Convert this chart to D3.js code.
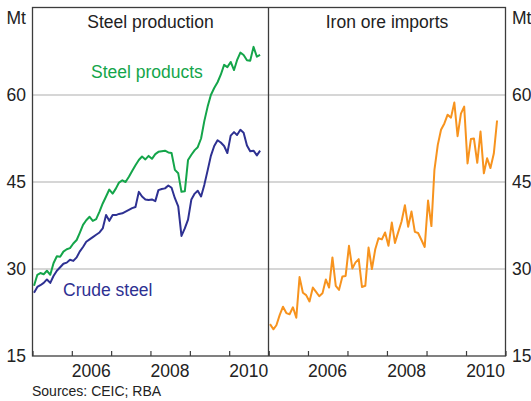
<!DOCTYPE html>
<html>
<head>
<meta charset="utf-8">
<script src="https://cdn.jsdelivr.net/npm/d3@7"></script>
<style>
  body { margin: 0; background: #fff; }
  svg text { font-family: "Liberation Sans", Arial, sans-serif; fill: #222; }
</style>
</head>
<body>
<svg id="chart" width="531" height="401"></svg>
<script>
// monthly data, Jan 2005 - Oct 2010 (Mt)
const months = [
  "2005-01","2005-02","2005-03","2005-04","2005-05","2005-06","2005-07","2005-08","2005-09","2005-10","2005-11","2005-12",
  "2006-01","2006-02","2006-03","2006-04","2006-05","2006-06","2006-07","2006-08","2006-09","2006-10","2006-11","2006-12",
  "2007-01","2007-02","2007-03","2007-04","2007-05","2007-06","2007-07","2007-08","2007-09","2007-10","2007-11","2007-12",
  "2008-01","2008-02","2008-03","2008-04","2008-05","2008-06","2008-07","2008-08","2008-09","2008-10","2008-11","2008-12",
  "2009-01","2009-02","2009-03","2009-04","2009-05","2009-06","2009-07","2009-08","2009-09","2009-10","2009-11","2009-12",
  "2010-01","2010-02","2010-03","2010-04","2010-05","2010-06","2010-07","2010-08","2010-09","2010-10"
];

const steelProducts = [
  27.1, 29.0, 29.3, 29.1, 29.7, 29.0, 31.0, 32.2, 32.1, 33.0, 33.4, 33.6,
  34.4, 35.0, 36.2, 37.6, 38.4, 39.0, 38.3, 38.6, 39.9, 41.3, 42.5, 43.7,
  43.0, 43.9, 44.9, 45.3, 45.0, 45.9, 46.9, 47.9, 48.8, 49.4, 48.9, 49.5,
  49.0, 49.8, 50.2, 50.3, 50.4, 50.1, 50.0, 47.1, 46.5, 43.3, 43.4, 48.8,
  49.7, 50.5, 51.0, 52.5, 55.5, 58.0, 60.0, 61.2, 62.2, 63.5, 65.2, 64.8,
  65.7, 64.3, 66.0, 67.3, 66.9, 66.0, 65.9, 68.3, 66.6, 66.9
];

const crudeSteel = [
  25.9, 26.9, 27.2, 27.6, 28.2, 27.6, 28.8, 29.7, 30.3, 30.9, 31.1, 31.6,
  31.4, 32.0, 33.0, 33.8, 34.7, 35.1, 35.5, 35.9, 36.3, 37.0, 39.3, 38.3,
  39.3, 39.3, 39.5, 39.6, 39.9, 40.2, 40.5, 40.7, 43.3, 42.5, 42.0, 41.9,
  42.0, 41.7, 43.6, 43.8, 43.9, 44.4, 44.0, 42.2, 40.8, 35.7, 37.0, 38.5,
  42.0, 43.0, 43.5, 42.5, 44.5, 47.0, 49.5, 51.2, 52.2, 51.8, 51.2, 50.0,
  53.0, 53.6, 53.1, 54.0, 53.5, 51.3, 50.3, 50.4, 49.6, 50.4
];

const ironOre = [
  20.5, 19.6, 20.3, 22.1, 23.5, 22.4, 22.2, 23.4, 21.6, 28.6, 25.9, 25.5,
  24.4, 26.8, 26.1, 25.3, 25.8, 28.2, 26.8, 32.0, 27.1, 26.4, 28.7, 28.8,
  34.0, 30.1, 31.1, 31.7, 26.9, 27.1, 33.7, 30.0, 33.4, 35.3, 35.1, 36.3,
  34.0, 38.0, 34.5, 36.4, 38.2, 41.0, 37.3, 39.9, 36.4, 36.2, 35.0, 33.8,
  41.8, 37.4, 47.1, 51.4, 54.0, 55.1, 56.6, 56.1, 58.7, 52.9, 56.8, 58.0,
  48.2, 52.4, 52.5, 48.3, 53.7, 46.5, 49.1, 47.4, 49.9, 55.6
];

const yTicks = [15, 30, 45, 60];
const gridTicks = [30, 45, 60];
const yearTicks = [2005, 2006, 2007, 2008, 2009, 2010, 2011];
const yearLabels = [2006, 2008, 2010];

const parseMonth = d3.timeParse("%Y-%m");
const dates = months.map(m => d3.timeDay.offset(parseMonth(m), 14));

const svg = d3.select("#chart");
const plotTop = 7.5, plotBottom = 356;
const panels = [
  { title: "Steel production", x0: 32.5, x1: 268.5,
    series: [{ values: steelProducts, color: "#14a54a" }, { values: crudeSteel, color: "#2e3192" }] },
  { title: "Iron ore imports", x0: 268.5, x1: 505.5,
    series: [{ values: ironOre, color: "#f7931e" }] }
];

const y = d3.scaleLinear().domain([15, 75]).range([plotBottom, plotTop + 0.5]);

// gridlines across both panels
svg.append("g").selectAll("line")
  .data(gridTicks)
  .enter().append("line")
  .attr("x1", panels[0].x0).attr("x2", panels[1].x1)
  .attr("y1", d => y(d)).attr("y2", d => y(d))
  .attr("stroke", "#c8c8c8")
  .attr("stroke-width", 1.3);

panels.forEach(p => {
  const x = d3.scaleTime()
    .domain([new Date(2005, 0, 1), new Date(2011, 0, 1)])
    .range([p.x0, p.x1]);

  const line = d3.line()
    .x((d, i) => x(dates[i]))
    .y(d => y(d));

  p.series.forEach(s => {
    svg.append("path")
      .datum(s.values)
      .attr("fill", "none")
      .attr("stroke", s.color)
      .attr("stroke-width", 2)
      .attr("stroke-linejoin", "round")
      .attr("d", line);
  });

  // year ticks pointing up into the plot
  svg.append("g")
    .attr("transform", `translate(0,${plotBottom})`)
    .call(d3.axisBottom(x)
      .tickValues(yearTicks.map(yr => new Date(yr, 0, 1)))
      .tickSize(-5)
      .tickFormat(""))
    .call(g => g.select(".domain").remove())
    .selectAll("line")
    .attr("stroke", "#3c3c3c")
    .attr("stroke-width", 1.2);

  // year labels centred in the year
  svg.append("g").selectAll("text")
    .data(yearLabels)
    .enter().append("text")
    .attr("x", d => x(new Date(d, 6, 1)))
    .attr("y", 377)
    .attr("text-anchor", "middle")
    .style("font-size", "17.5px")
    .text(d => d);

  svg.append("text")
    .attr("x", (p.x0 + p.x1) / 2)
    .attr("y", 28)
    .attr("text-anchor", "middle")
    .style("font-size", "17.5px")
    .text(p.title);
});

// frame
svg.append("rect")
  .attr("x", panels[0].x0).attr("y", plotTop)
  .attr("width", panels[1].x1 - panels[0].x0)
  .attr("height", plotBottom - plotTop)
  .attr("fill", "none")
  .attr("stroke", "#3c3c3c")
  .attr("stroke-width", 1.3);

svg.append("line")
  .attr("x1", panels[1].x0).attr("x2", panels[1].x0)
  .attr("y1", plotTop).attr("y2", plotBottom)
  .attr("stroke", "#3c3c3c")
  .attr("stroke-width", 1.3);

// y-axis labels on both sides
svg.append("g").selectAll("text")
  .data(yTicks)
  .enter().append("text")
  .attr("x", 26)
  .attr("y", d => y(d))
  .attr("dy", "0.35em")
  .attr("text-anchor", "end")
  .style("font-size", "17.5px")
  .text(d => d);

svg.append("g").selectAll("text")
  .data(yTicks)
  .enter().append("text")
  .attr("x", 512)
  .attr("y", d => y(d))
  .attr("dy", "0.35em")
  .style("font-size", "17.5px")
  .text(d => d);

svg.append("text").attr("x", 26).attr("y", 18).attr("dy", "0.35em")
  .attr("text-anchor", "end").style("font-size", "17.5px").text("Mt");
svg.append("text").attr("x", 512).attr("y", 18).attr("dy", "0.35em")
  .style("font-size", "17.5px").text("Mt");

// series labels
svg.append("text")
  .attr("x", 91).attr("y", 78)
  .style("font-size", "17.5px")
  .style("fill", "#14a54a")
  .text("Steel products");

svg.append("text")
  .attr("x", 63).attr("y", 296)
  .style("font-size", "17.5px")
  .style("fill", "#2e3192")
  .text("Crude steel");

svg.append("text")
  .attr("x", 32).attr("y", 396)
  .style("font-size", "14px")
  .text("Sources: CEIC; RBA");
</script>
</body>
</html>
